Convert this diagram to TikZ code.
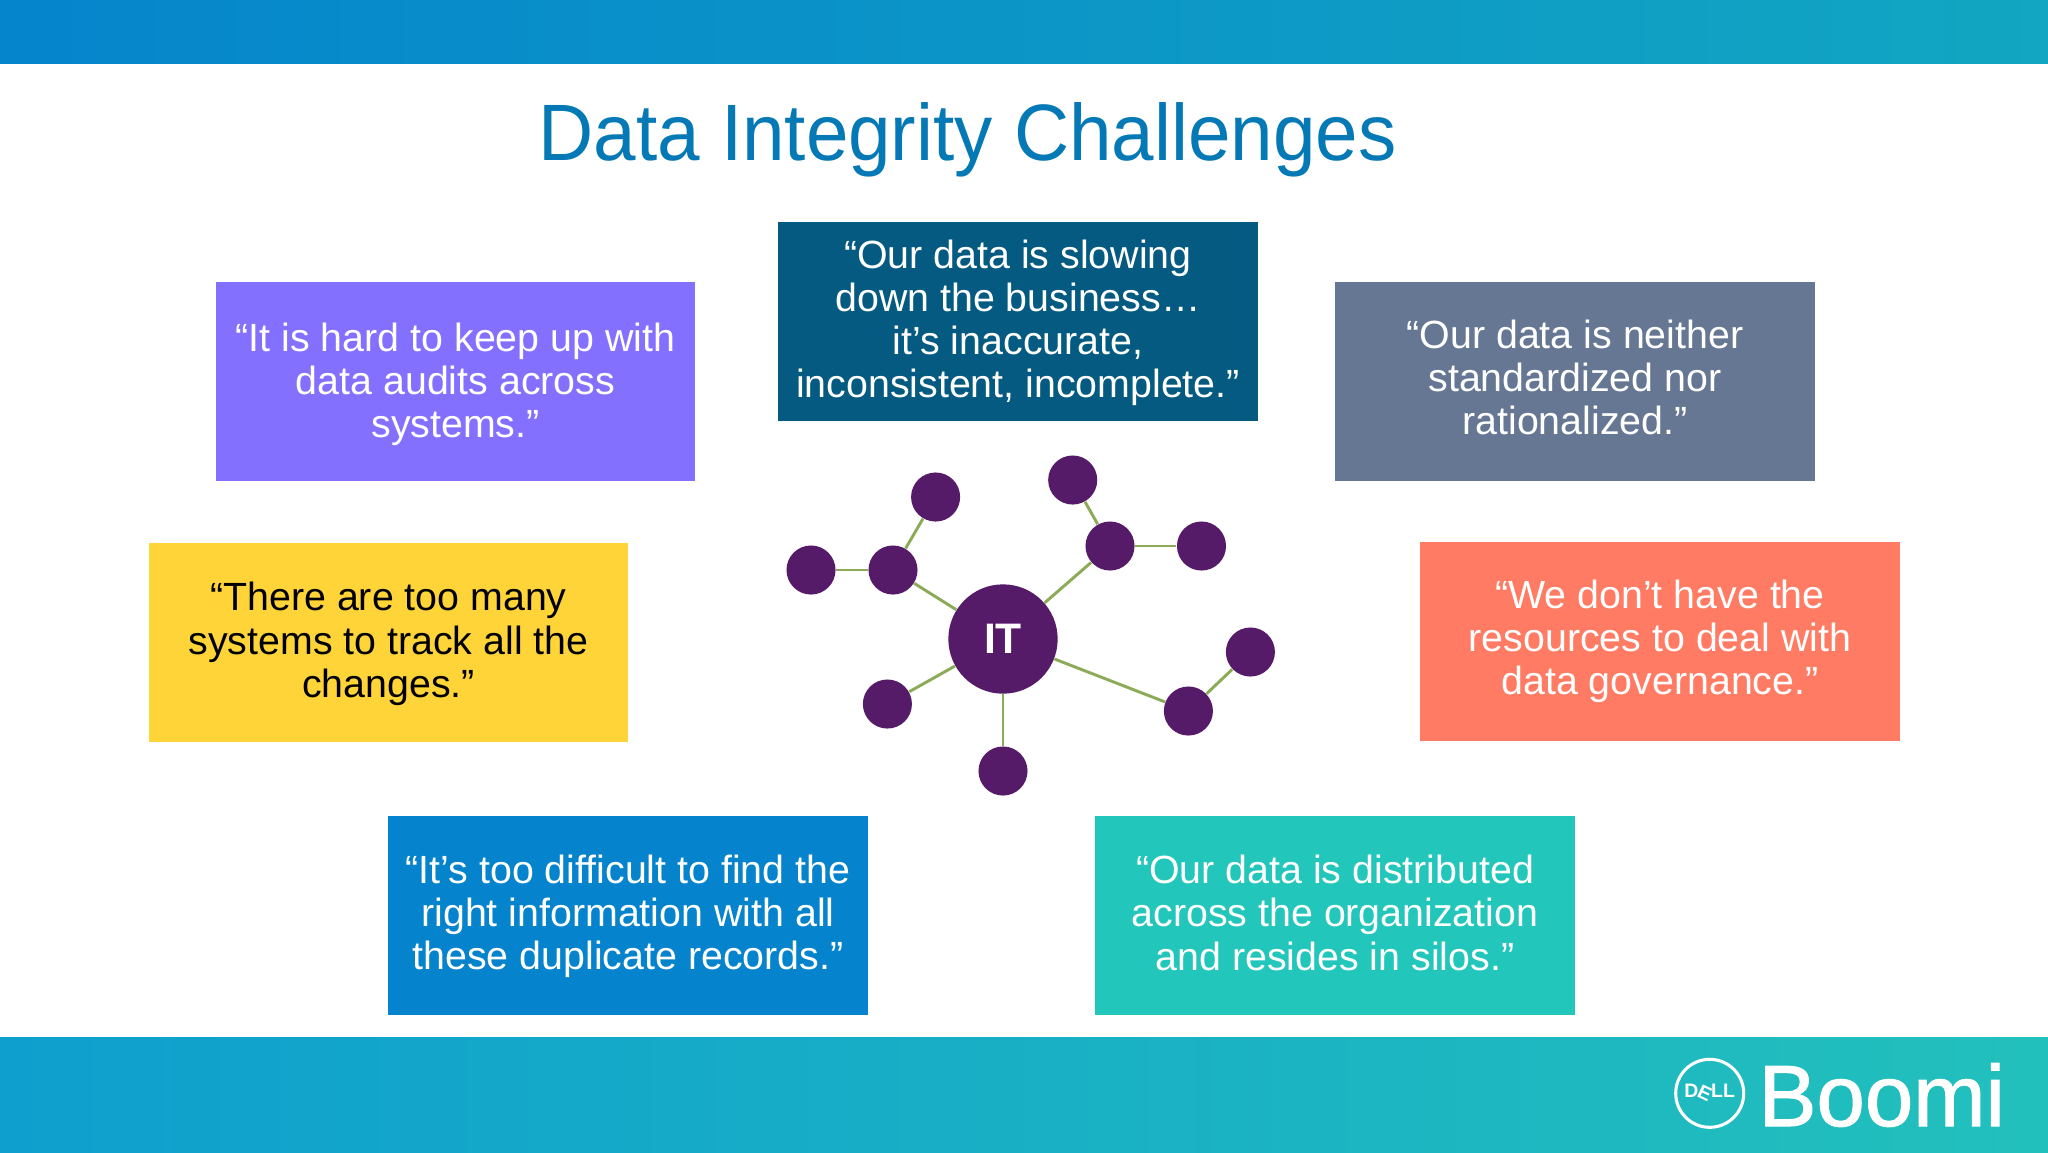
\documentclass[tikz,border=0pt]{standalone}
\usepackage{fontspec}
\setmainfont{Liberation Sans}
\newfontfamily\titlefont[FakeStretch=0.955]{Liberation Sans}
\newfontfamily\logofont[FakeBold=1.2]{Liberation Sans}
\usetikzlibrary{positioning}
\definecolor{bandblue}{HTML}{0585CC}
\definecolor{bandmid}{HTML}{12A6C2}
\definecolor{bandsky}{HTML}{0F9FCE}
\definecolor{bandteal}{HTML}{22C0BC}
\definecolor{titleblue}{HTML}{0579B5}
\definecolor{itpurple}{HTML}{551A68}
\definecolor{linkgreen}{HTML}{8CAB58}
\definecolor{boxviolet}{HTML}{8470FF}
\definecolor{boxnavy}{HTML}{045A80}
\definecolor{boxslate}{HTML}{667794}
\definecolor{boxyellow}{HTML}{FFD438}
\definecolor{boxcoral}{HTML}{FF7B63}
\definecolor{boxblue}{HTML}{0583CC}
\definecolor{boxteal}{HTML}{22C6BA}
\tikzset{
  quotebox/.style={rectangle,minimum width=179.8pt,minimum height=74.4pt,inner sep=0pt},
  quote/.style={inner sep=0pt,align=center,text=white,font=\fontsize{14.75}{16.2}\selectfont},
  dot/.style={circle,fill=itpurple,minimum size=18.4pt,inner sep=0pt},
  link/.style={draw=linkgreen,line width=1.1pt}
}
\begin{document}
\begin{tikzpicture}[x=0.375pt,y=-0.375pt]
  \useasboundingbox (0,0) rectangle (2048,1152);
  \fill[white] (0,0) rectangle (2048,1152);
  % bands
  \shade[left color=bandblue,right color=bandmid] (0,0) rectangle (2048,63);
  \shade[left color=bandsky,right color=bandteal] (0,1037) rectangle (2048,1152);
  \node[anchor=base west,inner sep=0pt,text=titleblue,font=\titlefont\fontsize{30}{36}\selectfont] (title) at (538,160) {Data Integrity Challenges};
  % quotes
  \node[quotebox,fill=boxviolet] (audits) at (455.5,381.5) {};
  \node[quote,yshift=-1pt] (auditstext) at (audits) {“It is hard to keep up with\\data audits across\\systems.”};
  \node[quotebox,fill=boxnavy] (slowing) at (1018,321.5) {};
  \node[quote,yshift=-0.5pt] (slowingtext) at (slowing) {“Our data is slowing\\down the business…\\it’s inaccurate,\\inconsistent, incomplete.”};
  \node[quotebox,fill=boxslate] (neither) at (1575,381.5) {};
  \node[quote,yshift=1.5pt] (neithertext) at (neither) {“Our data is neither\\standardized nor\\rationalized.”};
  \node[quotebox,fill=boxyellow] (changes) at (388.5,642.5) {};
  \node[quote,text=black,yshift=-0.5pt] (changestext) at (changes) {“There are too many\\systems to track all the\\changes.”};
  \node[quotebox,fill=boxcoral] (resources) at (1660,641.5) {};
  \node[quote] (resourcestext) at (resources) {“We don’t have the\\resources to deal with\\data governance.”};
  \node[quotebox,fill=boxblue] (duplicate) at (628,915.5) {};
  \node[quote,yshift=-0.3pt] (duplicatetext) at (duplicate) {“It’s too difficult to find the\\right information with all\\these duplicate records.”};
  \node[quotebox,fill=boxteal] (silos) at (1335,915.5) {};
  \node[quote,yshift=1pt] (silostext) at (silos) {“Our data is distributed\\across the organization\\and resides in silos.”};
  % network
  \node[circle,fill=itpurple,minimum size=41pt,inner sep=0pt,text=white,font=\fontsize{16}{18}\selectfont\bfseries] (it) at (1003,639) {IT};
  \node[dot] (n1) at (935.6,497) {};
  \node[dot] (n2) at (811,570) {};
  \node[dot] (n3) at (893,570) {};
  \node[dot] (n4) at (1072.7,480) {};
  \node[dot] (n5) at (1110,546) {};
  \node[dot] (n6) at (1201.5,546) {};
  \node[dot] (n7) at (1250.4,652) {};
  \node[dot] (n8) at (1188.4,711) {};
  \node[dot] (n9) at (887.4,704) {};
  \node[dot] (n10) at (1003,771) {};
  \draw[link] (it) -- (n3);
  \draw[link] (n3) -- (n1);
  \draw[link] (n3) -- (n2);
  \draw[link] (it) -- (n5);
  \draw[link] (n5) -- (n4);
  \draw[link] (n5) -- (n6);
  \draw[link] (it) -- (n8);
  \draw[link] (n8) -- (n7);
  \draw[link] (it) -- (n9);
  \draw[link] (it) -- (n10);
  % logo
  \node[circle,draw=white,line width=1.15pt,minimum size=25.5pt,inner sep=0pt,text=white,font=\fontsize{7.3}{8}\selectfont\bfseries] (dell) at (1709.7,1093.3) {D\kern-.9pt\raisebox{.3pt}{\rotatebox{-25}{E}}\kern-.9pt LL};
  \node[anchor=base west,inner sep=0pt,text=white,font=\logofont\fontsize{32.6}{36}\selectfont] (boomi) at (1758,1126) {Boomi};
\end{tikzpicture}
\end{document}
